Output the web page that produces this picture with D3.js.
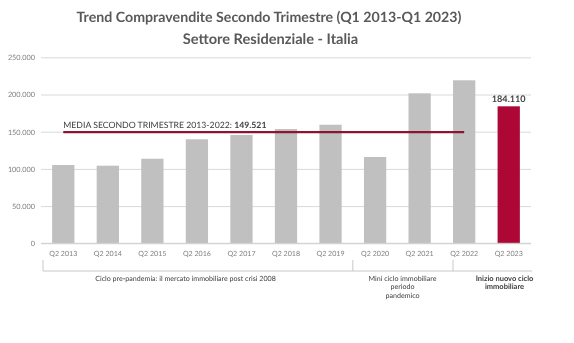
<!DOCTYPE html>
<html>
<head>
<meta charset="utf-8">
<script src="https://cdn.jsdelivr.net/npm/d3@7"></script>
<style>
  html, body { margin: 0; padding: 0; background: #ffffff; }
  svg { display: block; will-change: transform; }
  text { font-family: Lato, "Open Sans", sans-serif; text-rendering: geometricPrecision; }
</style>
</head>
<body>
<svg id="chart" width="574" height="343"></svg>
<script>
// ---- DATA ----
const categories = ["Q2 2013","Q2 2014","Q2 2015","Q2 2016","Q2 2017","Q2 2018","Q2 2019","Q2 2020","Q2 2021","Q2 2022","Q2 2023"];
const values = [105200, 104300, 113700, 139800, 145600, 153600, 159400, 116000, 201600, 219100, 184110];
const highlightCategory = "Q2 2023";
const meanValue = 149521;
const meanFrom = "Q2 2013";
const meanTo = "Q2 2022";
const meanLabel = "MEDIA SECONDO TRIMESTRE 2013-2022: ";
const yTicks = [0, 50000, 100000, 150000, 200000, 250000];
const titleLines = ["Trend Compravendite Secondo Trimestre (Q1 2013-Q1 2023)", "Settore Residenziale - Italia"];
const groupLabels = [
  ["Ciclo pre-pandemia: il mercato immobiliare post crisi 2008"],
  ["Mini ciclo immobiliare", "periodo", "pandemico"],
  ["Inizio nuovo ciclo", "immobiliare"]
];
const groupBold = [false, false, true];

// ---- SETUP ----
const svg = d3.select("#chart");
const locale = d3.formatLocale({ decimal: ",", thousands: ".", grouping: [3], currency: ["", ""] });
const fmt = locale.format(",.0f");

const x = d3.scaleBand().domain(categories).range([41, 531]).paddingInner(0.5).paddingOuter(0.25);
const y = d3.scaleLinear().domain([0, 250000]).range([243.3, 57.3]);

// helper: scale font size so that text reaches a target width
function fitSize(node, base, target) {
  const w = node.getComputedTextLength();
  return w > 0 ? Math.round(base * target / w * 10) / 10 : base;
}

// ---- TITLE ----
const t1 = svg.append("text").attr("x", 269).attr("y", 22).attr("text-anchor", "middle")
  .attr("font-size", 15).attr("font-weight", "bold").attr("fill", "#595959").text(titleLines[0]);
t1.attr("font-size", fitSize(t1.node(), 15, 386));
const t2 = svg.append("text").attr("x", 270.5).attr("y", 43.5).attr("text-anchor", "middle")
  .attr("font-size", 15).attr("font-weight", "bold").attr("fill", "#595959").text(titleLines[1]);
t2.attr("font-size", fitSize(t2.node(), 15, 175));

// ---- GRID + Y AXIS ----
const yAxis = d3.axisLeft(y).tickValues(yTicks).tickSize(-(531 - 41)).tickFormat(d => fmt(d)).tickPadding(6);
const gy = svg.append("g").attr("transform", "translate(41,0)").call(yAxis);
gy.select(".domain").remove();
gy.selectAll(".tick line").attr("stroke", "#d9d9d9").attr("stroke-width", 1);
gy.selectAll(".tick text").attr("font-size", 8).attr("fill", "#7f7f7f").attr("font-family", "Lato, 'Open Sans', sans-serif");
{
  const sample = gy.selectAll(".tick text").filter(d => d === 250000);
  gy.selectAll(".tick text").attr("font-size", fitSize(sample.node(), 8, 27)).attr("x", -6);
}

// ---- BARS ----
svg.append("g").selectAll("rect").data(categories).join("rect")
  .attr("x", d => x(d))
  .attr("y", (d, i) => y(values[i]))
  .attr("width", x.bandwidth())
  .attr("height", (d, i) => y(0) - y(values[i]))
  .attr("fill", d => d === highlightCategory ? "#ad0736" : "#c0c0c0");

// baseline
svg.append("line").attr("x1", 41).attr("x2", 531).attr("y1", y(0)).attr("y2", y(0))
  .attr("stroke", "#d0d0d0").attr("stroke-width", 1);

// value label on highlighted bar
const hi = categories.indexOf(highlightCategory);
const vl = svg.append("text").attr("x", x(highlightCategory) + x.bandwidth() / 2).attr("y", y(values[hi]) - 4)
  .attr("text-anchor", "middle").attr("font-size", 11).attr("font-weight", "bold").attr("fill", "#404040")
  .text(fmt(values[hi]));
vl.attr("font-size", fitSize(vl.node(), 11, 34));

// ---- MEAN LINE ----
const mx1 = x(meanFrom) + x.bandwidth() / 2;
const mx2 = x(meanTo) + x.bandwidth() / 2;
svg.append("line").attr("x1", mx1).attr("x2", mx2).attr("y1", y(meanValue)).attr("y2", y(meanValue))
  .attr("stroke", "#8a1535").attr("stroke-width", 2.2);
const ml = svg.append("text").attr("x", mx1).attr("y", y(meanValue) - 4)
  .attr("font-size", 11).attr("fill", "#404040");
ml.append("tspan").text(meanLabel);
ml.append("tspan").attr("font-weight", "bold").text(fmt(meanValue));
ml.attr("font-size", fitSize(ml.node(), 11, 203));

// ---- X AXIS LABELS ----
const xAxis = d3.axisBottom(x).tickSize(0).tickPadding(0);
const gx = svg.append("g").attr("transform", `translate(0,${y(0)})`).call(xAxis);
gx.select(".domain").remove();
gx.selectAll(".tick text").attr("font-size", 8).attr("fill", "#7f7f7f").attr("dy", 0).attr("y", 13)
  .attr("font-family", "Lato, 'Open Sans', sans-serif");
{
  const s = gx.selectAll(".tick text").filter(d => d === "Q2 2013");
  gx.selectAll(".tick text").attr("font-size", fitSize(s.node(), 8, 28));
}

// ---- GROUP BRACKETS ----
const bTop = 260, bBot = 271;
const gb = svg.append("g").attr("stroke", "#c8c8c8").attr("stroke-width", 1);
gb.append("line").attr("x1", 43).attr("x2", 532).attr("y1", bBot).attr("y2", bBot);
[43, (x("Q2 2019") + x.bandwidth() + x("Q2 2020")) / 2, x("Q2 2022")].forEach(sx => {
  gb.append("line").attr("x1", sx).attr("x2", sx).attr("y1", bTop).attr("y2", bBot);
});

// group labels
const groupCenters = [185.5, 402.5, 504.5];
const groupTexts = groupLabels.map((lines, gi) => {
  const t = svg.append("text").attr("text-anchor", "middle").attr("fill", "#404040")
    .attr("font-size", 8).attr("font-weight", groupBold[gi] ? "bold" : "normal");
  lines.forEach((ln, li) => {
    t.append("tspan").attr("x", groupCenters[gi]).attr("y", 281 + li * 8.4).attr("fill", "#404040").text(ln);
  });
  return t;
});
const groupFont = fitSize(groupTexts[0].node(), 8, 181);
groupTexts.forEach((t, gi) => {
  if (!groupBold[gi]) t.attr("font-size", groupFont);
  else t.attr("font-size", fitSize(t.select("tspan").node(), 8, 58));
});
</script>
</body>
</html>
